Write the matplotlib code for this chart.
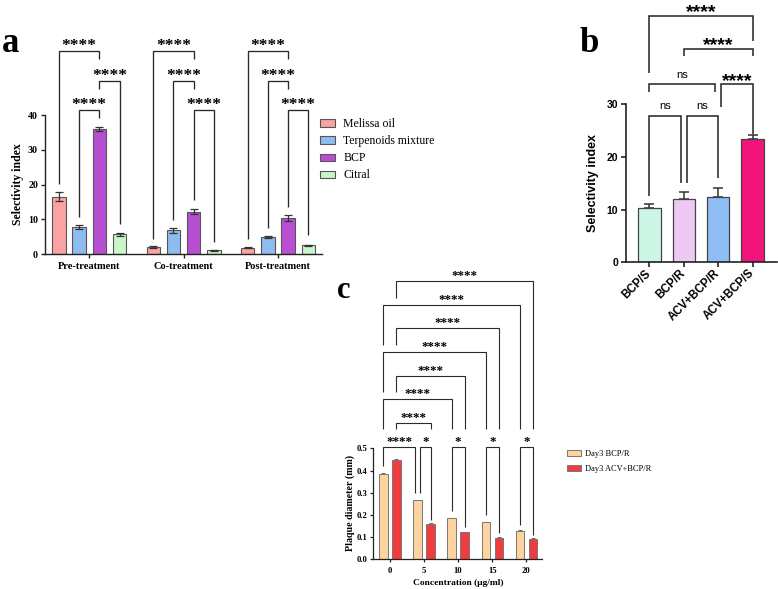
import matplotlib
matplotlib.use('Agg')
import matplotlib.pyplot as plt
import numpy as np
from matplotlib.patches import Patch

# ---------------- data ----------------
a_groups = ['Pre-treatment', 'Co-treatment', 'Post-treatment']
a_series = ['Melissa oil', 'Terpenoids mixture', 'BCP', 'Citral']
a_melissa = [16.5, 1.9, 1.85]
a_melissa_err = [1.25, 0.3, 0.1]
a_terp = [7.9, 6.9, 4.8]
a_terp_err = [0.6, 0.7, 0.3]
a_bcp = [36.15, 12.2, 10.4]
a_bcp_err = [0.6, 0.8, 0.9]
a_citral = [5.7, 1.05, 2.5]
a_citral_err = [0.5, 0.1, 0.15]
a_colors = ['#F9A3A3', '#8EBBF0', '#B84FD3', '#C8F6C8']
# (group, bar1, bar2, bracket height, leg1 bottom, leg2 bottom)
a_brackets = [
    (0, 0, 2, 58.6, 20.1, 56.2), (0, 2, 3, 50.0, 47.5, 8.65), (0, 1, 2, 41.4, 10.8, 39.1),
    (1, 0, 2, 58.6, 4.2, 56.2), (1, 1, 2, 50.0, 9.8, 47.5), (1, 2, 3, 41.4, 15.6, 3.6),
    (2, 0, 2, 58.6, 4.2, 56.2), (2, 1, 2, 50.0, 7.4, 47.5), (2, 2, 3, 41.4, 13.65, 5.5),
]

b_categories = ['BCP/S', 'BCP/R', 'ACV+BCP/R', 'ACV+BCP/S']
b_values = [10.2, 12.0, 12.45, 23.37]
b_errors = [0.8, 1.3, 1.7, 0.7]
b_colors = ['#CCF7E6', '#EEC9F4', '#8FBEF7', '#F2147B']
# (x1, x2, height, leg1 bottom, leg2 bottom, label)
b_brackets = [
    (0.0, 0.91, 27.67, 12.6, 15.1, 'ns'),
    (1.09, 2.0, 27.67, 15.1, 15.9, 'ns'),
    (0.0, 1.91, 33.7, 32.3, 32.3, 'ns'),
    (2.09, 3.0, 33.7, 29.4, 24.4, '****'),
    (1.0, 3.0, 40.4, 39.1, 39.1, '****'),
    (0.0, 3.0, 46.7, 35.9, 41.9, '****'),
]

c_conc = ['0', '5', '10', '15', '20']
c_series = ['Day3 BCP/R', 'Day3 ACV+BCP/R']
c_bcp_r = [0.385, 0.266, 0.184, 0.166, 0.127]
c_acv_bcp_r = [0.448, 0.160, 0.121, 0.096, 0.092]
c_err = [0.003, 0.003, 0.003, 0.003, 0.003]
c_colors = ['#FDD3A0', '#F03B3F']
# (group1, series1, group2, series2, height, leg1 bottom, leg2 bottom, label, leg-offset1, leg-offset2)
c_brackets = [
    (0, 0, 1, 0, 0.507, 0.420, 0.297, '****', 0, -0.07),
    (1, 0, 1, 1, 0.507, 0.297, 0.177, '*', 0.07, 0),
    (2, 0, 2, 1, 0.507, 0.219, 0.147, '*', 0, 0),
    (3, 0, 3, 1, 0.507, 0.200, 0.117, '*', 0, 0),
    (4, 0, 4, 1, 0.507, 0.155, 0.109, '*', 0, 0),
    (0, 1, 1, 1, 0.615, 0.586, 0.586, '****', 0, 0),
    (0, 0, 2, 0, 0.721, 0.586, 0.586, '****', 0, 0),
    (0, 1, 2, 1, 0.827, 0.752, 0.586, '****', 0, 0),
    (0, 0, 3, 0, 0.932, 0.752, 0.586, '****', 0, 0),
    (0, 1, 3, 1, 1.041, 0.965, 0.586, '****', 0, 0),
    (0, 0, 4, 0, 1.146, 0.965, 0.586, '****', 0, 0),
    (0, 1, 4, 1, 1.255, 1.175, 0.586, '****', 0, 0),
]

# ---------------- figure ----------------
W, H = 778, 589
fig = plt.figure(figsize=(W / 100, H / 100), dpi=100)
SERIF = 'Liberation Serif'
SANS = 'Liberation Sans'


def add_ax(x0, y0, x1, y1):
    return fig.add_axes([x0 / W, 1 - y1 / H, (x1 - x0) / W, (y1 - y0) / H])


def bracket(ax, x1, x2, y, b1, b2, lw, color='#2a2a2a'):
    ax.plot([x1, x1, x2, x2], [b1, y, y, b2], color=color, lw=lw,
            clip_on=False, solid_joinstyle='miter', solid_capstyle='butt', zorder=4)


def style_axes(ax, lw, ticklen):
    for s in ['top', 'right']:
        ax.spines[s].set_visible(False)
    for s in ['left', 'bottom']:
        ax.spines[s].set_linewidth(lw)
        ax.spines[s].set_color('#222222')
    ax.tick_params(direction='out', length=ticklen, width=lw, color='#222222')


# ---------- panel a ----------
axa = add_ax(45, 115.3, 322, 254)
G = 4.67
gx = np.arange(len(a_groups)) * G
a_vals = [a_melissa, a_terp, a_bcp, a_citral]
a_errs = [a_melissa_err, a_terp_err, a_bcp_err, a_citral_err]
for i in range(4):
    xs = gx + i
    axa.bar(xs, a_vals[i], width=0.66, color=a_colors[i], edgecolor='#555555',
            linewidth=0.8, zorder=2, label=a_series[i])
    axa.errorbar(xs, a_vals[i], yerr=a_errs[i], fmt='none', ecolor='#333333',
                 elinewidth=0.9, capsize=2.9, capthick=0.9, zorder=3)
axa.set_xlim(-0.69, gx[-1] + 3 + 0.68)
axa.set_ylim(0, 40)
style_axes(axa, 1.0, 3.0)
axa.set_yticks([0, 10, 20, 30, 40])
axa.set_xticks(gx + 1.5)
axa.set_xticklabels(a_groups, fontfamily=SERIF, fontweight='bold', fontsize=7.5)
axa.tick_params(axis='x', pad=3)
axa.tick_params(axis='y', pad=2)
for t in axa.get_yticklabels():
    t.set_fontfamily(SERIF); t.set_fontweight('bold'); t.set_fontsize(7.2)
axa.set_ylabel('Selectivity index', fontfamily=SERIF, fontweight='bold', fontsize=8.5)
axa.yaxis.set_label_coords(18 / W, 1 - 184 / H, transform=fig.transFigure)
axa.yaxis.label.set_va('center')
for g, i1, i2, y, b1, b2 in a_brackets:
    x1, x2 = gx[g] + i1, gx[g] + i2
    bracket(axa, x1, x2, y, b1, b2, 0.95)
    axa.annotate('****', xy=((x1 + x2) / 2, y), xytext=(0, 0.8), textcoords='offset points',
                 ha='center', va='baseline', fontfamily=SERIF, fontweight='bold',
                 fontsize=12.5, annotation_clip=False)
handles = [Patch(facecolor=a_colors[i], edgecolor='#555555', linewidth=0.8, label=a_series[i])
           for i in range(4)]
fig.legend(handles=handles, loc='upper left', bbox_to_anchor=(320 / W, 1 - 118.2 / H),
           frameon=False, borderpad=0, borderaxespad=0, handlelength=1.27,
           handleheight=0.57, handletextpad=0.7, labelspacing=0.43,
           prop={'family': SERIF, 'size': 8.5})
fig.text(1.7 / W, 1 - 52.3 / H, 'a', fontfamily=SERIF, fontweight='bold', fontsize=25,
         ha='left', va='baseline')

# ---------- panel b ----------
axb = add_ax(626, 104, 776.7, 262.3)
bx = np.arange(len(b_categories))
axb.bar(bx, b_values, width=0.65, color=b_colors, edgecolor='#444444', linewidth=0.9, zorder=2)
axb.errorbar(bx, b_values, yerr=[np.zeros(len(b_errors)), b_errors], fmt='none',
             ecolor='#333333', elinewidth=1.1, capsize=3.8, capthick=1.1, zorder=1)
axb.set_xlim(-0.68, 3.70)
axb.set_ylim(0, 30)
style_axes(axb, 1.2, 3.6)
axb.set_yticks([0, 10, 20, 30])
axb.set_xticks(bx)
axb.set_xticklabels(b_categories, rotation=45, ha='right', va='center', rotation_mode='anchor',
                    fontfamily=SANS, fontweight='bold', fontsize=8.3)
axb.tick_params(axis='x', pad=3)
axb.tick_params(axis='y', pad=2)
for t in axb.get_yticklabels():
    t.set_fontfamily(SANS); t.set_fontweight('bold'); t.set_fontsize(7.5)
axb.set_ylabel('Selectivity index', fontfamily=SANS, fontweight='bold', fontsize=9)
axb.yaxis.set_label_coords(593.3 / W, 1 - 183.3 / H, transform=fig.transFigure)
axb.yaxis.label.set_va('center')
for x1, x2, y, b1, b2, lab in b_brackets:
    bracket(axb, x1, x2, y, b1, b2, 1.15)
    if lab == 'ns':
        axb.annotate(lab, xy=((x1 + x2) / 2, y), xytext=(0, 5.0), textcoords='offset points',
                     ha='center', va='baseline', fontfamily=SANS, fontsize=8,
                     annotation_clip=False)
    else:
        axb.annotate(lab, xy=((x1 + x2) / 2, y), xytext=(0, -0.8), textcoords='offset points',
                     ha='center', va='baseline', fontfamily=SANS, fontweight='bold',
                     fontsize=14, annotation_clip=False)
fig.text(579 / W, 1 - 52.3 / H, 'b', fontfamily=SERIF, fontweight='bold', fontsize=25,
         ha='left', va='baseline')

# ---------- panel c ----------
axc = add_ax(373.3, 448.3, 541.7, 559.3)
cx = np.arange(len(c_conc))
off = 0.19
c_vals = [c_bcp_r, c_acv_bcp_r]
for s in range(2):
    xs = cx + (s * 2 - 1) * off
    axc.bar(xs, c_vals[s], width=0.245, color=c_colors[s], edgecolor='#777777',
            linewidth=0.7, zorder=2, label=c_series[s])
    axc.errorbar(xs, c_vals[s], yerr=[np.zeros(5), c_err], fmt='none', ecolor='#555555',
                 elinewidth=0.6, capsize=1.6, capthick=0.6, zorder=1)
axc.set_xlim(-0.487, 4.45)
axc.set_ylim(0, 0.5)
style_axes(axc, 0.9, 2.5)
axc.set_yticks([0, 0.1, 0.2, 0.3, 0.4, 0.5])
axc.set_yticklabels(['0.0', '0.1', '0.2', '0.3', '0.4', '0.5'])
axc.set_xticks(cx)
axc.set_xticklabels(c_conc)
axc.tick_params(axis='x', pad=3)
axc.tick_params(axis='y', pad=2)
for t in axc.get_yticklabels() + axc.get_xticklabels():
    t.set_fontfamily(SERIF); t.set_fontweight('bold'); t.set_fontsize(6.2)
axc.set_ylabel('Plaque diameter (mm)', fontfamily=SERIF, fontweight='bold', fontsize=7.2)
axc.yaxis.set_label_coords(350 / W, 1 - 503 / H, transform=fig.transFigure)
axc.yaxis.label.set_va('center')
axc.set_xlabel('Concentration (μg/ml)', fontfamily=SERIF, fontweight='bold', fontsize=6.8)
axc.xaxis.set_label_coords(458.3 / W, 1 - 583.3 / H, transform=fig.transFigure)
axc.xaxis.label.set_va('center')
for g1, s1, g2, s2, y, b1, b2, lab, o1, o2 in c_brackets:
    x1 = cx[g1] + (s1 * 2 - 1) * off + o1
    x2 = cx[g2] + (s2 * 2 - 1) * off + o2
    bracket(axc, x1, x2, y, b1, b2, 0.8)
    axc.annotate(lab, xy=((x1 + x2) / 2, y), xytext=(0, 1.4), textcoords='offset points',
                 ha='center', va='baseline', fontfamily=SERIF, fontweight='bold',
                 fontsize=9.4, annotation_clip=False)
handles_c = [Patch(facecolor=c_colors[s], edgecolor='#777777', linewidth=0.7, label=c_series[s])
             for s in range(2)]
fig.legend(handles=handles_c, loc='upper left', bbox_to_anchor=(566.7 / W, 1 - 450.2 / H),
           frameon=False, borderpad=0, borderaxespad=0, handlelength=1.68,
           handleheight=0.72, handletextpad=0.52, labelspacing=0.77,
           prop={'family': SERIF, 'size': 6})
fig.text(337 / W, 1 - 298.3 / H, 'c', fontfamily=SERIF, fontweight='bold', fontsize=22,
         ha='left', va='baseline')

fig.savefig('out.png', dpi=100)
